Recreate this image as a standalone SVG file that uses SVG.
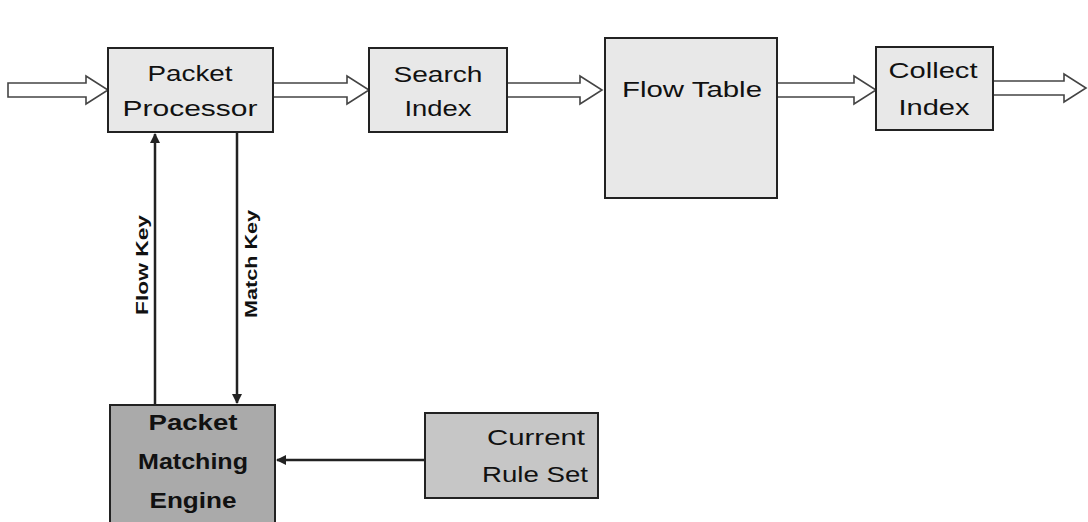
<svg xmlns="http://www.w3.org/2000/svg" width="1088" height="522" viewBox="0 0 1088 522">
<style>
.box{stroke:#222;stroke-width:2}
.light{fill:#e8e8e8}
.mid{fill:#c6c6c6}
.dark{fill:#aaaaaa}
.t{font-family:"Liberation Sans",Arial,sans-serif;font-size:22px;fill:#111;text-anchor:middle}
.b{font-weight:bold}
.lbl{font-family:"Liberation Sans",Arial,sans-serif;font-size:17px;font-weight:bold;fill:#111;text-anchor:middle}
.fat{fill:#fff;stroke:#444;stroke-width:1.6;stroke-linejoin:miter}
.ln{stroke:#222;stroke-width:2.5;fill:none}
</style>
<defs>
<marker id="ah" viewBox="0 0 10 10" refX="9" refY="5" markerWidth="4" markerHeight="4" orient="auto" markerUnits="strokeWidth">
<path d="M0,0 L10,5 L0,10 z" fill="#222"/>
</marker>
</defs>
<g id="connectors">
<polygon class="fat" points="8,83 86,83 86,76 108,90 86,104 86,97 8,97"/>
<polygon class="fat" points="273,83 347,83 347,76 369,90 347,104 347,97 273,97"/>
<polygon class="fat" points="507,83 580,83 580,76 602,90 580,104 580,97 507,97"/>
<polygon class="fat" points="777,83 854,83 854,76 876,90 854,104 854,97 777,97"/>
<polygon class="fat" points="993,81 1064,81 1064,74 1086,88 1064,102 1064,95 993,95"/>
<line class="ln" x1="155" y1="405" x2="155" y2="134" marker-end="url(#ah)"/>
<line class="ln" x1="237" y1="132" x2="237" y2="403" marker-end="url(#ah)"/>
<line class="ln" x1="425" y1="460" x2="277" y2="460" marker-end="url(#ah)"/>
<text class="lbl" transform="translate(148,265) rotate(-90)" textLength="100" lengthAdjust="spacingAndGlyphs">Flow Key</text>
<text class="lbl" transform="translate(257,264) rotate(-90)" textLength="108" lengthAdjust="spacingAndGlyphs">Match Key</text>
</g>
<g id="packet-processor">
<rect class="box light" x="108" y="48" width="165" height="84"/>
<text class="t" x="190" y="81" textLength="85" lengthAdjust="spacingAndGlyphs">Packet</text>
<text class="t" x="190" y="116" textLength="135" lengthAdjust="spacingAndGlyphs">Processor</text>
</g>
<g id="search-index">
<rect class="box light" x="369" y="48" width="138" height="84"/>
<text class="t" x="438" y="82" textLength="89" lengthAdjust="spacingAndGlyphs">Search</text>
<text class="t" x="438" y="116" textLength="67" lengthAdjust="spacingAndGlyphs">Index</text>
</g>
<g id="flow-table">
<rect class="box light" x="605" y="38" width="172" height="160"/>
<text class="t" x="692" y="97" textLength="140" lengthAdjust="spacingAndGlyphs">Flow Table</text>
</g>
<g id="collect-index">
<rect class="box light" x="876" y="47" width="117" height="83"/>
<text class="t" x="933" y="78" textLength="89" lengthAdjust="spacingAndGlyphs">Collect</text>
<text class="t" x="934" y="115" textLength="71" lengthAdjust="spacingAndGlyphs">Index</text>
</g>
<g id="packet-matching-engine">
<rect class="box dark" x="110" y="405" width="165" height="125"/>
<text class="t b" x="193" y="430" textLength="89" lengthAdjust="spacingAndGlyphs">Packet</text>
<text class="t b" x="193" y="469" textLength="110" lengthAdjust="spacingAndGlyphs">Matching</text>
<text class="t b" x="193" y="508" textLength="87" lengthAdjust="spacingAndGlyphs">Engine</text>
</g>
<g id="current-rule-set">
<rect class="box mid" x="425" y="413" width="173" height="85"/>
<text class="t" x="536" y="445" textLength="98" lengthAdjust="spacingAndGlyphs">Current</text>
<text class="t" x="535" y="482" textLength="106" lengthAdjust="spacingAndGlyphs">Rule Set</text>
</g>
</svg>
